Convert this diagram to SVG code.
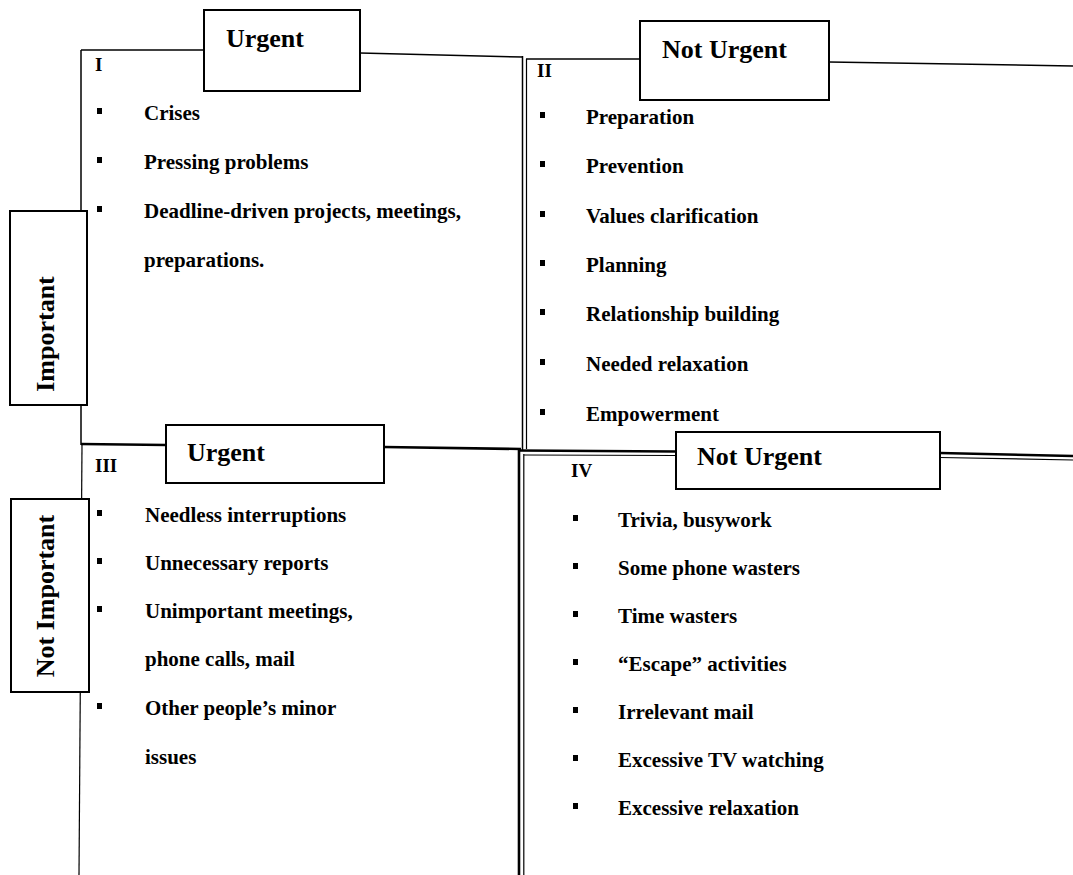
<svg xmlns="http://www.w3.org/2000/svg" width="1073" height="875" viewBox="0 0 1073 875">
<style>
.ln{stroke:#000;fill:none;stroke-width:1.5}
.thk{stroke:#000;fill:none;stroke-width:2.6}
.thn{stroke:#000;fill:none;stroke-width:1.2}
.box{fill:#fff;stroke:#000;stroke-width:2}
.hd{font-family:"Liberation Serif",serif;font-weight:bold;font-size:26px;fill:#000}
.it{font-family:"Liberation Serif",serif;font-weight:bold;font-size:21px;fill:#000}
.rn{font-family:"Liberation Serif",serif;font-weight:bold;font-size:19px;fill:#000}
.bl{fill:#000}
</style>
<rect width="1073" height="875" fill="#fff"/>
<g id="connectors">
  <path class="ln" d="M81,50 L81,445"/>
  <path class="thn" d="M82,445 L79,875"/>
  <path class="ln" d="M81,50 L204,50"/>
  <path class="ln" d="M360,53 L523,57"/>
  <path class="ln" d="M526,59 L640,59"/>
  <path class="ln" d="M829,62 L1073,66"/>
  <path class="ln" stroke-width="2.2" d="M522.5,56 L522.5,450"/>
  <path class="thn" d="M526.5,59 L526.5,449"/>
  <path class="thk" stroke-width="3" d="M519,448 L519,875"/>
  <path class="thn" stroke-width="1.5" d="M523.8,454 L523.8,875"/>
  <path class="thk" d="M81,444 L166,445"/>
  <path class="thk" stroke-width="3" d="M384,447 L521,449"/>
  <path class="thk" d="M518,450.5 L676,451.5"/>
  <path class="thn" d="M524,455 L676,455.5"/>
  <path class="thk" d="M940,453 L1073,456"/>
  <path class="thn" d="M940,457.5 L1073,460"/>
</g>
<g id="hdr-urgent-top">
  <rect class="box" x="204" y="10" width="156" height="81"/>
  <text class="hd" x="226" y="47">Urgent</text>
</g>
<g id="hdr-noturgent-top">
  <rect class="box" x="640" y="21" width="189" height="79"/>
  <text class="hd" x="662" y="58">Not Urgent</text>
</g>
<g id="hdr-urgent-bottom">
  <rect class="box" x="166" y="425" width="218" height="58"/>
  <text class="hd" x="187" y="461">Urgent</text>
</g>
<g id="hdr-noturgent-bottom">
  <rect class="box" x="676" y="432" width="264" height="57"/>
  <text class="hd" x="697" y="465">Not Urgent</text>
</g>
<g id="hdr-important">
  <rect class="box" x="10" y="211" width="77" height="194"/>
  <text class="hd" transform="translate(54,334) rotate(-90)" text-anchor="middle">Important</text>
</g>
<g id="hdr-notimportant">
  <rect class="box" x="11" y="499" width="78" height="193"/>
  <text class="hd" transform="translate(54,596) rotate(-90)" text-anchor="middle">Not Important</text>
</g>
<g id="quadrant-1">
  <text class="rn" x="95" y="71">I</text>
  <rect class="bl" x="97" y="108" width="5" height="6"/>
  <text class="it" x="144" y="120">Crises</text>
  <rect class="bl" x="97" y="157" width="5" height="6"/>
  <text class="it" x="144" y="169">Pressing problems</text>
  <rect class="bl" x="97" y="206" width="5" height="6"/>
  <text class="it" x="144" y="218">Deadline-driven projects, meetings,</text>
  <text class="it" x="144" y="267">preparations.</text>
</g>
<g id="quadrant-2">
  <text class="rn" x="537" y="77">II</text>
  <rect class="bl" x="540" y="112" width="5" height="6"/>
  <text class="it" x="586" y="124">Preparation</text>
  <rect class="bl" x="540" y="161" width="5" height="6"/>
  <text class="it" x="586" y="173">Prevention</text>
  <rect class="bl" x="540" y="211" width="5" height="6"/>
  <text class="it" x="586" y="223">Values clarification</text>
  <rect class="bl" x="540" y="260" width="5" height="6"/>
  <text class="it" x="586" y="272">Planning</text>
  <rect class="bl" x="540" y="309" width="5" height="6"/>
  <text class="it" x="586" y="321">Relationship building</text>
  <rect class="bl" x="540" y="359" width="5" height="6"/>
  <text class="it" x="586" y="371">Needed relaxation</text>
  <rect class="bl" x="540" y="409" width="5" height="6"/>
  <text class="it" x="586" y="421">Empowerment</text>
</g>
<g id="quadrant-3">
  <text class="rn" x="95" y="472">III</text>
  <rect class="bl" x="97" y="510" width="5" height="6"/>
  <text class="it" x="145" y="522">Needless interruptions</text>
  <rect class="bl" x="97" y="558" width="5" height="6"/>
  <text class="it" x="145" y="570">Unnecessary reports</text>
  <rect class="bl" x="97" y="606" width="5" height="6"/>
  <text class="it" x="145" y="618">Unimportant meetings,</text>
  <text class="it" x="145" y="666">phone calls, mail</text>
  <rect class="bl" x="97" y="703" width="5" height="6"/>
  <text class="it" x="145" y="715">Other people’s minor</text>
  <text class="it" x="145" y="764">issues</text>
</g>
<g id="quadrant-4">
  <text class="rn" x="571" y="477">IV</text>
  <rect class="bl" x="573" y="515" width="5" height="6"/>
  <text class="it" x="618" y="527">Trivia, busywork</text>
  <rect class="bl" x="573" y="563" width="5" height="6"/>
  <text class="it" x="618" y="575">Some phone wasters</text>
  <rect class="bl" x="573" y="611" width="5" height="6"/>
  <text class="it" x="618" y="623">Time wasters</text>
  <rect class="bl" x="573" y="659" width="5" height="6"/>
  <text class="it" x="618" y="671">“Escape” activities</text>
  <rect class="bl" x="573" y="707" width="5" height="6"/>
  <text class="it" x="618" y="719">Irrelevant mail</text>
  <rect class="bl" x="573" y="755" width="5" height="6"/>
  <text class="it" x="618" y="767">Excessive TV watching</text>
  <rect class="bl" x="573" y="803" width="5" height="6"/>
  <text class="it" x="618" y="815">Excessive relaxation</text>
</g>
</svg>
